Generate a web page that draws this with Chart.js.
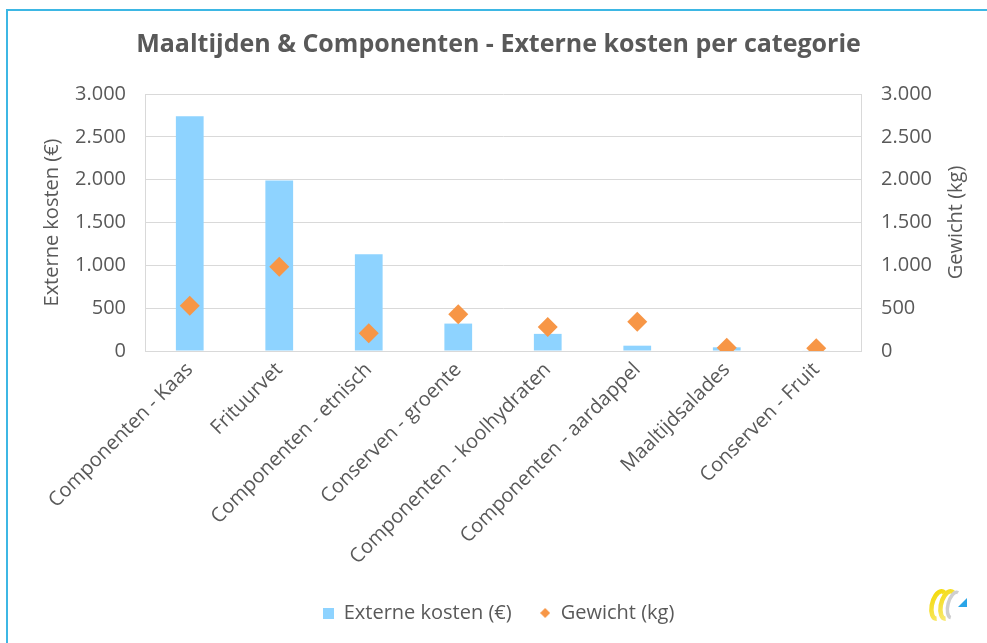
<!DOCTYPE html>
<html>
<head>
<meta charset="utf-8">
<script src="https://cdn.jsdelivr.net/npm/chart.js@4/dist/chart.umd.min.js"></script>
<style>
  html, body { margin: 0; padding: 0; background: #ffffff; }
  #wrap { width: 987px; height: 643px; position: relative; }
</style>
</head>
<body>
<div id="wrap"><canvas id="chart" width="987" height="643"></canvas></div>
<script>
// Categories and values
const categories = [
  'Componenten - Kaas',
  'Frituurvet',
  'Componenten - etnisch',
  'Conserven - groente',
  'Componenten - koolhydraten',
  'Componenten - aardappel',
  'Maaltijdsalades',
  'Conserven - Fruit'
];
const externeKosten = [2740, 1990, 1130, 320, 200, 62, 43, 5];   // €
const gewicht = [527, 984, 207, 430, 281, 340, 39, 32];          // kg
const axisTicks = [0, 500, 1000, 1500, 2000, 2500, 3000];

const FONT = "'Open Sans', sans-serif";
const TEXT = '#595959';
const GRID = '#d9d9d9';
const BAR = '#8ed3ff';
const DOT = '#f79646';

function nl(v) {
  return String(v).replace(/\B(?=(\d{3})+(?!\d))/g, '.');
}

// small legend swatches
function swatch(kind, size, color) {
  const c = document.createElement('canvas');
  c.width = size; c.height = size;
  const g = c.getContext('2d');
  g.fillStyle = color;
  if (kind === 'rect') {
    g.fillRect(0, 0, size, size);
  } else {
    g.beginPath();
    g.moveTo(size / 2, 0); g.lineTo(size, size / 2);
    g.lineTo(size / 2, size); g.lineTo(0, size / 2);
    g.closePath(); g.fill();
  }
  return c;
}
const swatches = [swatch('rect', 11, BAR), swatch('diamond', 10, DOT)];

// frame lines, right axis title and corner logo
const decor = {
  id: 'decor',
  beforeDraw(chart) {
    const ctx = chart.ctx;
    ctx.save();
    ctx.fillStyle = '#ffffff';
    ctx.fillRect(0, 0, chart.width, chart.height);
    ctx.strokeStyle = '#3db7e4';
    ctx.lineWidth = 2;
    ctx.beginPath();
    ctx.moveTo(7, 643); ctx.lineTo(7, 10); ctx.lineTo(987, 10);
    ctx.stroke();
    ctx.restore();
  },
  afterDraw(chart) {
    const ctx = chart.ctx;
    const area = chart.chartArea;
    ctx.save();
    ctx.translate(956, (area.top + area.bottom) / 2);
    ctx.rotate(-Math.PI / 2);
    ctx.font = "20px " + FONT;
    ctx.fillStyle = TEXT;
    ctx.textAlign = 'center';
    ctx.textBaseline = 'middle';
    ctx.fillText('Gewicht (kg)', 0, 0);
    ctx.restore();

    // logo
    ctx.save();
    ctx.translate(944, 605);
    ctx.lineWidth = 4.5;
    const yel = ctx.createLinearGradient(-14, -14, 6, 14);
    yel.addColorStop(0, '#f3d900');
    yel.addColorStop(1, '#f9ea7a');
    ctx.strokeStyle = yel;
    ctx.beginPath();
    ctx.ellipse(-5, 0, 7, 14, 0.25, Math.PI * 0.45, Math.PI * 1.6);
    ctx.stroke();
    ctx.beginPath();
    ctx.ellipse(4, 0, 7, 14, 0.25, Math.PI * 0.45, Math.PI * 1.6);
    ctx.stroke();
    ctx.strokeStyle = '#cfcfcf';
    ctx.lineWidth = 3.5;
    ctx.beginPath();
    ctx.ellipse(10, 0, 6, 13, 0.25, Math.PI * 0.5, Math.PI * 1.55);
    ctx.stroke();
    ctx.fillStyle = '#2aa5e8';
    ctx.beginPath();
    ctx.moveTo(14, 2); ctx.lineTo(23, -7); ctx.lineTo(23, 2);
    ctx.closePath(); ctx.fill();
    ctx.restore();
  }
};

new Chart(document.getElementById('chart'), {
  data: {
    labels: categories,
    datasets: [
      {
        type: 'bar',
        label: 'Externe kosten (€)',
        data: externeKosten,
        backgroundColor: BAR,
        borderWidth: 0,
        yAxisID: 'y',
        categoryPercentage: 1,
        barPercentage: 0.31,
        order: 2
      },
      {
        type: 'line',
        label: 'Gewicht (kg)',
        data: gewicht,
        showLine: false,
        pointStyle: 'rectRot',
        pointRadius: 10,
        pointHoverRadius: 10,
        pointBackgroundColor: DOT,
        pointBorderColor: DOT,
        pointBorderWidth: 0,
        backgroundColor: DOT,
        borderColor: DOT,
        yAxisID: 'y1',
        order: 1
      }
    ]
  },
  options: {
    responsive: false,
    animation: false,
    devicePixelRatio: 1,
    layout: { padding: { top: 12, left: 10, right: 0, bottom: 10 } },
    plugins: {
      tooltip: { enabled: false },
      title: {
        display: true,
        text: 'Maaltijden & Componenten - Externe kosten per categorie',
        color: TEXT,
        font: { family: FONT, size: 25, weight: 'bold' },
        padding: { top: 18, bottom: 34 }
      },
      legend: {
        position: 'bottom',
        labels: {
          color: TEXT,
          font: { family: FONT, size: 20 },
          usePointStyle: true,
          boxWidth: 11,
          boxHeight: 11,
          padding: 28,
          sort: (a, b) => a.datasetIndex - b.datasetIndex,
          generateLabels(chart) {
            const items = Chart.defaults.plugins.legend.labels.generateLabels(chart);
            items.forEach(it => { it.pointStyle = swatches[it.datasetIndex]; });
            return items;
          }
        }
      }
    },
    scales: {
      x: {
        grid: { display: true, drawOnChartArea: false, drawTicks: false, color: GRID },
        border: { color: GRID, width: 1 },
        ticks: {
          color: TEXT,
          font: { family: FONT, size: 20 },
          minRotation: 45,
          maxRotation: 45,
          padding: 7,
          autoSkip: false
        },
        afterFit(s) { s.height = 224; }
      },
      y: {
        position: 'left',
        min: 0, max: 3000,
        afterBuildTicks(s) { s.ticks = axisTicks.map(v => ({ value: v })); },
        grid: { color: GRID, lineWidth: 1, drawTicks: false },
        border: { color: GRID, width: 1 },
        ticks: {
          color: TEXT,
          font: { family: FONT, size: 20 },
          padding: 19,
          callback: v => nl(v)
        },
        title: {
          display: true,
          text: 'Externe kosten (€)',
          color: TEXT,
          font: { family: FONT, size: 20 },
          padding: { top: 30, bottom: 0 }
        },
        afterFit(s) { s.width = 135; }
      },
      y1: {
        position: 'right',
        min: 0, max: 3000,
        afterBuildTicks(s) { s.ticks = axisTicks.map(v => ({ value: v })); },
        grid: { display: true, drawOnChartArea: false, drawTicks: false, color: GRID },
        border: { color: GRID, width: 1 },
        ticks: {
          color: TEXT,
          font: { family: FONT, size: 20 },
          padding: 20,
          callback: v => nl(v)
        },
        afterFit(s) { s.width = 126; }
      }
    }
  },
  plugins: [decor]
});
</script>
</body>
</html>
